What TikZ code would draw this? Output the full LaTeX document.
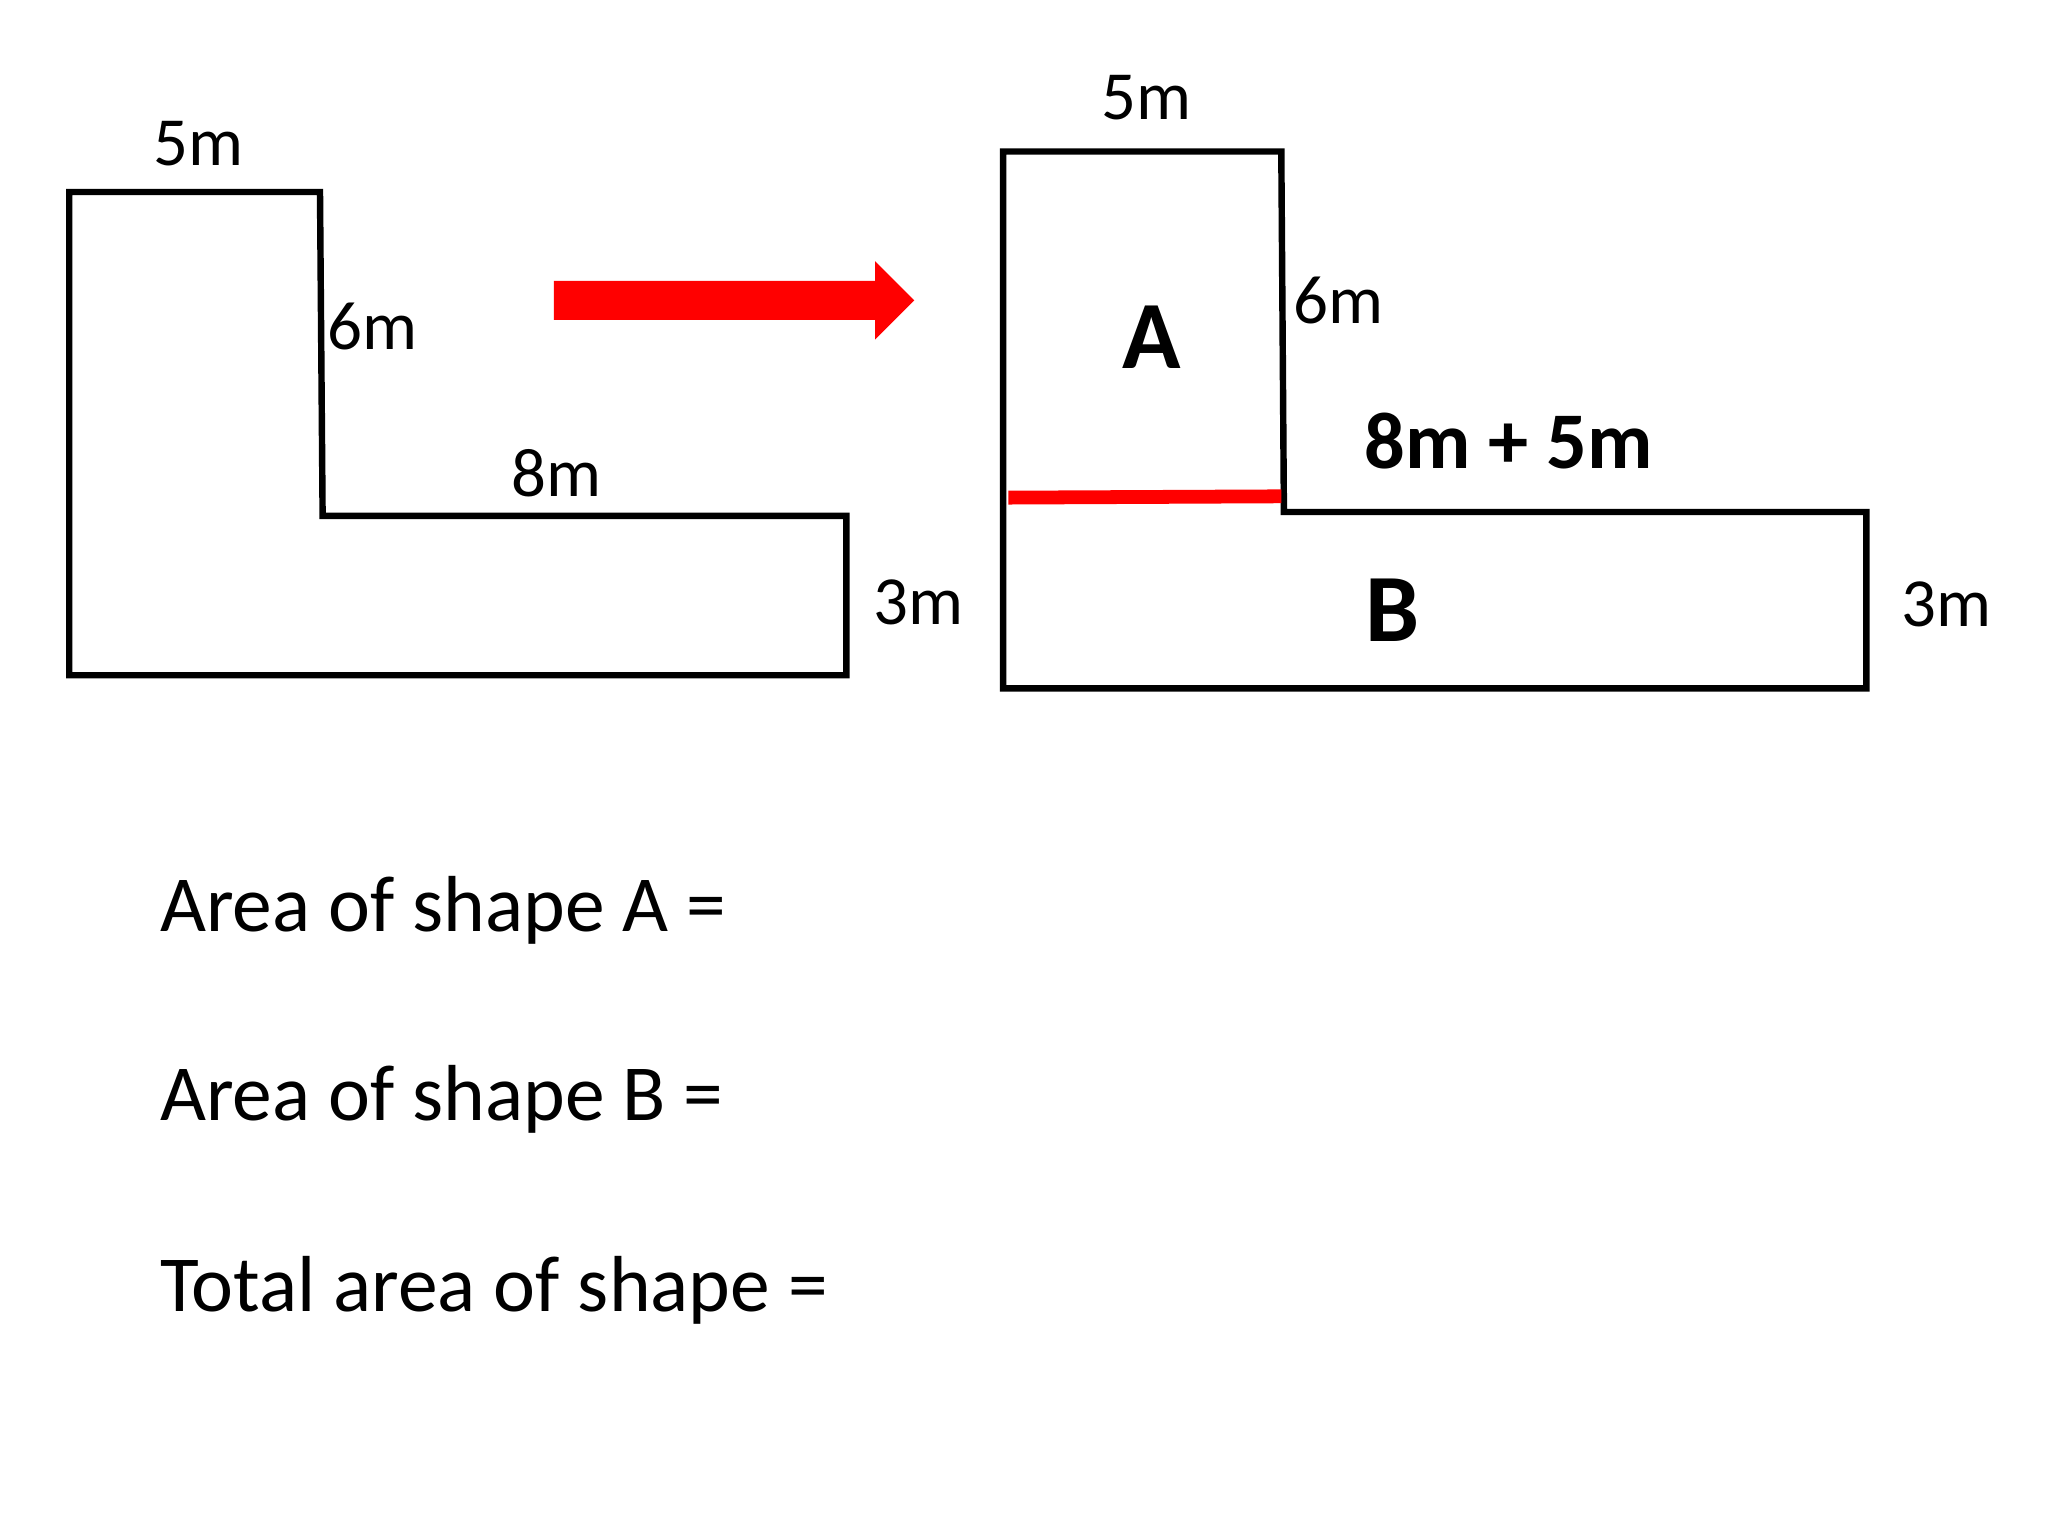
\documentclass[tikz,border=0pt]{standalone}
\usepackage{fontspec}
\setmainfont{Carlito}
\begin{document}
\begin{tikzpicture}[x=0.01cm,y=-0.01cm,
  shp/.style={draw=black,line width=1.4pt},
  lbl/.style={font=\fontsize{15}{18}\selectfont,inner sep=0pt},
  big/.style={font=\fontsize{21}{26}\selectfont\bfseries,inner sep=0pt},
  eq/.style={font=\fontsize{17.3}{21}\selectfont,inner sep=0pt,anchor=west}]
\useasboundingbox[fill=white] (0,0) rectangle (1568,1176);
\draw[shp] (53,147) -- (245,147) -- (247,395) -- (648,395) -- (648,517) -- (53,517) -- cycle;
\node[lbl] (l5) at (152,110) {5m};
\node[lbl] (l6) at (285,250) {6m};
\node[lbl] (l8) at (426,362) {8m};
\node[lbl] (l3) at (703,461) {3m};
\fill[red] (424,215) -- (670,215) -- (670,200) -- (700,230) -- (670,260) -- (670,245) -- (424,245) -- cycle;
\draw[shp] (768,116) -- (981,116) -- (983,392) -- (1429,392) -- (1429,527) -- (768,527) -- cycle;
\coordinate (ra) at (772,381); \coordinate (rb) at (981,380);
\draw[red,line width=3pt] (ra) -- (rb);
\node[lbl] (r5) at (878,75) {5m};
\node[lbl] (r6) at (1025,230) {6m};
\node[lbl] (r3) at (1490,463) {3m};
\node[big] (A) at (882,258) {A};
\node[big] (B) at (1066,467) {B};
\node[font=\fontsize{17.5}{22}\selectfont\bfseries,inner sep=0pt] (s) at (1155,338) {8m + 5m};
\node[eq] (ea) at (122,697) {Area of shape A =};
\node[eq] (eb) at (122,842) {Area of shape B =};
\node[eq] (et) at (122,988) {Total area of shape =};
\end{tikzpicture}
\end{document}
